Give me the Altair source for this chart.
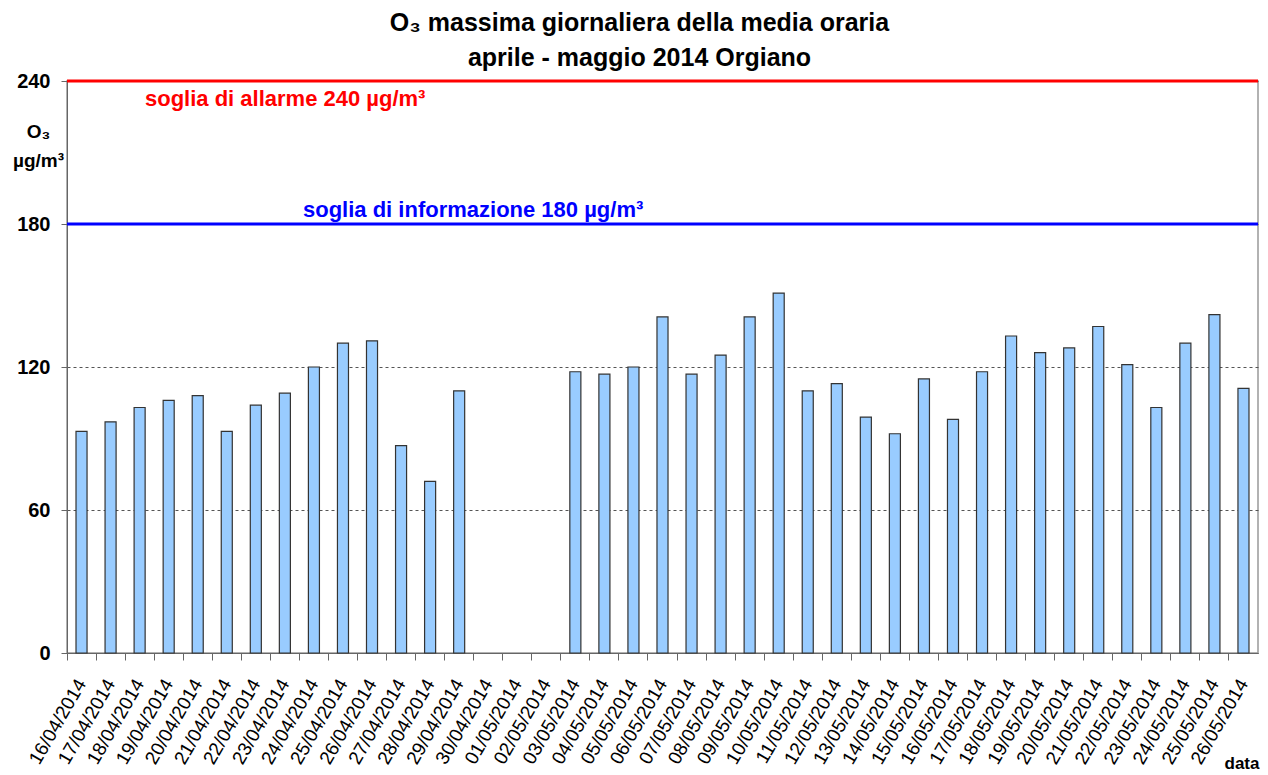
import altair as alt
import pandas as pd

dates = [
    "16/04/2014", "17/04/2014", "18/04/2014", "19/04/2014", "20/04/2014",
    "21/04/2014", "22/04/2014", "23/04/2014", "24/04/2014", "25/04/2014",
    "26/04/2014", "27/04/2014", "28/04/2014", "29/04/2014", "30/04/2014",
    "01/05/2014", "02/05/2014", "03/05/2014", "04/05/2014", "05/05/2014",
    "06/05/2014", "07/05/2014", "08/05/2014", "09/05/2014", "10/05/2014",
    "11/05/2014", "12/05/2014", "13/05/2014", "14/05/2014", "15/05/2014",
    "16/05/2014", "17/05/2014", "18/05/2014", "19/05/2014", "20/05/2014",
    "21/05/2014", "22/05/2014", "23/05/2014", "24/05/2014", "25/05/2014",
    "26/05/2014",
]
o3_values = [
    93, 97, 103, 106, 108, 93, 104, 109, 120, 130,
    131, 87, 72, 110, None, None, None, 118, 117, 120,
    141, 117, 125, 141, 151, 110, 113, 99, 92, 115,
    98, 118, 133, 126, 128, 137, 121, 103, 130, 142,
    111,
]
y_ticks = [0, 60, 120, 180, 240]
alarm_threshold = 240
info_threshold = 180
alarm_label = "soglia di allarme 240 µg/m³"
info_label = "soglia di informazione 180 µg/m³"

df = pd.DataFrame({"data": dates, "o3": o3_values})

W, H = 1191, 572

x_enc = alt.X(
    "data:N",
    sort=dates,
    scale=alt.Scale(domain=dates, paddingInner=0, paddingOuter=0),
    axis=alt.Axis(
        title="data",
        titleFontSize=17,
        titleFontWeight="bold",
        titleX=W + 1,
        titleY=115,
        titleAlign="right",
        titleBaseline="alphabetic",
        labelAngle=-60,
        labelAlign="right",
        labelBaseline="middle",
        labelFontSize=19,
        labelColor="#000000",
        labelPadding=20,
        bandPosition=0,
        tickSize=7,
        tickColor="#666666",
        domainColor="#666666",
        labelOverlap=False,
        grid=False,
    ),
)

y_scale = alt.Scale(domain=[0, 240], nice=False)

bars = alt.Chart(df).mark_bar(
    width={"band": 0.38},
    fill="#99CCFF",
    stroke="#333333",
    strokeWidth=1.2,
).encode(
    x=x_enc,
    y=alt.Y(
        "o3:Q",
        scale=y_scale,
        axis=alt.Axis(
            values=y_ticks,
            title=["O₃", "µg/m³"],
            titleAngle=0,
            titleX=-29,
            titleY=41,
            titleAlign="center",
            titleBaseline="top",
            titleFontSize=19,
            titleFontWeight="bold",
            titleLineHeight=29,
            labelFontSize=20,
            labelFontWeight="bold",
            labelColor="#000000",
            labelPadding=11,
            tickSize=6,
            tickColor="#666666",
            domainColor="#666666",
            grid=True,
            gridColor="#555555",
            gridDash=[3, 3],
            gridWidth=1,
        ),
    ),
)

thr_df = pd.DataFrame({
    "value": [alarm_threshold, info_threshold],
    "label": [alarm_label, info_label],
})

alarm_rule = alt.Chart(thr_df.iloc[[0]]).mark_rule(
    color="#FF0000", strokeWidth=3
).encode(y=alt.Y("value:Q", scale=y_scale))

info_rule = alt.Chart(thr_df.iloc[[1]]).mark_rule(
    color="#0000FF", strokeWidth=3
).encode(y=alt.Y("value:Q", scale=y_scale))

alarm_text = alt.Chart(thr_df.iloc[[0]]).mark_text(
    align="left", baseline="top", dy=8, fontSize=22, fontWeight="bold",
    color="#FF0000",
).encode(x=alt.value(78), y=alt.Y("value:Q", scale=y_scale), text="label:N")

info_text = alt.Chart(thr_df.iloc[[1]]).mark_text(
    align="left", baseline="alphabetic", dy=-7, fontSize=22, fontWeight="bold",
    color="#0000FF",
).encode(x=alt.value(236), y=alt.Y("value:Q", scale=y_scale), text="label:N")

chart = alt.layer(
    bars, info_rule, alarm_rule, alarm_text, info_text
).properties(
    width=W,
    height=H,
    title=alt.Title(
        ["O₃ massima giornaliera della media oraria", "aprile - maggio 2014 Orgiano"],
        fontSize=25,
        fontWeight="bold",
        lineHeight=35,
        anchor="middle",
        dx=-23,
        dy=4,
        offset=4,
        color="#000000",
    ),
    autosize=alt.AutoSizeParams(type="none"),
    padding={"left": 59, "top": 73, "right": 2, "bottom": 120},
).configure(
    font="Liberation Sans",
).configure_view(
    stroke="#999999",
    strokeWidth=1.5,
)

chart.save("out.html", embed_options={"renderer": "svg", "actions": False})
